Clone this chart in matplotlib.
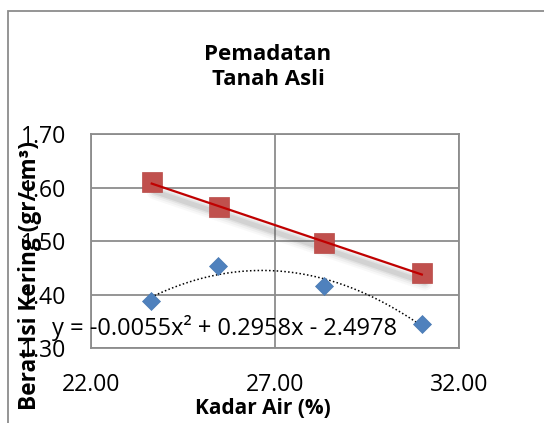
import numpy as np
import matplotlib
matplotlib.use("Agg")
import matplotlib.pyplot as plt
import matplotlib.transforms as mtransforms
from matplotlib.patches import Rectangle

# ---- data ----
x_red = [23.65, 25.48, 28.32, 30.99]
y_red = [1.610, 1.564, 1.497, 1.440]
x_blue = [23.63, 25.46, 28.32, 30.99]
y_blue = [1.388, 1.454, 1.417, 1.346]
x_ticks = [22, 27, 32]
x_tick_labels = ["22.00", "27.00", "32.00"]
y_ticks = [1.30, 1.40, 1.50, 1.60, 1.70]
y_tick_labels = ["1.30", "1.40", "1.50", "1.60", "1.70"]
title_text = "Pemadatan\nTanah Asli"
x_label = "Kadar Air (%)"
y_label = "Berat Isi Kering (gr/cm³)"
equation = "y = -0.0055x² + 0.2958x - 2.4978"

FONT = ["Open Sans", "DejaVu Sans"]
plt.rcParams['font.family'] = FONT

W, H = 544, 423
fig = plt.figure(figsize=(W / 100, H / 100), dpi=100)
ax = fig.add_axes([91 / W, 1 - 348.3 / H, 368 / W, 214 / H])

ax.set_xlim(22, 32)
ax.set_ylim(1.30, 1.70)
ax.set_xticks(x_ticks)
ax.set_xticklabels(x_tick_labels)
ax.set_yticks(y_ticks)
ax.set_yticklabels(y_tick_labels)
ax.tick_params(axis='both', length=0, labelsize=16.6, colors='black')
ax.tick_params(axis='x', pad=18)
ax.tick_params(axis='y', pad=18)
ax.grid(True, color='#8c8c8c', linewidth=1.3)
ax.set_axisbelow(True)
for s in ax.spines.values():
    s.set_color('#8c8c8c')
    s.set_linewidth(1.3)

# linear trendline for red series, with soft shadow
c1 = np.polyfit(x_red, y_red, 1)
xr = np.array([min(x_red), max(x_red)])
yr = np.polyval(c1, xr)
shadow_tr = mtransforms.offset_copy(ax.transData, fig=fig, x=3, y=-8, units='dots')
for lw, a in [(16, 0.04), (12, 0.06), (8, 0.09), (5, 0.12)]:
    ax.plot(xr, yr, color='#606060', lw=lw * 0.72, alpha=a, solid_capstyle='round',
            transform=shadow_tr, zorder=2)
ax.plot(xr, yr, color='#C00000', lw=1.6, zorder=4)

# polynomial trendline for blue series
c2 = np.polyfit(x_blue, y_blue, 2)
xb = np.linspace(min(x_blue), max(x_blue), 200)
ax.plot(xb, np.polyval(c2, xb), color='black', lw=1.1, ls=(0, (1, 1.5)), zorder=4)

ax.plot(x_red, y_red, ls='none', marker='s', ms=14.4, mfc='#C0504D',
        mec='#B84A47', mew=0.5, zorder=3)
ax.plot(x_blue, y_blue, ls='none', marker='D', ms=9.2, mfc='#4F81BD',
        mec='#4A7AB3', mew=0.5, zorder=5)

# texts
fig.text(268 / W, 1 - 67 / H, title_text, ha='center', va='center', fontsize=16,
         fontweight='bold', linespacing=1.3)
fig.text(263 / W, 1 - 408 / H, x_label, ha='center', va='center', fontsize=15,
         fontweight='bold')
fig.text(30 / W, 1 - 275 / H, y_label, ha='center', va='center', fontsize=16.3,
         fontweight='bold', rotation=90)
fig.text(52 / W, 1 - 328 / H, equation, ha='left', va='center', fontsize=17)

# chart border
fig.patches.append(Rectangle((8 / W, -0.1), 1.2, 1 - 11 / H + 0.1, transform=fig.transFigure,
                             fill=False, edgecolor='#8c8c8c', linewidth=1.3))

fig.savefig("out.png", dpi=100)
